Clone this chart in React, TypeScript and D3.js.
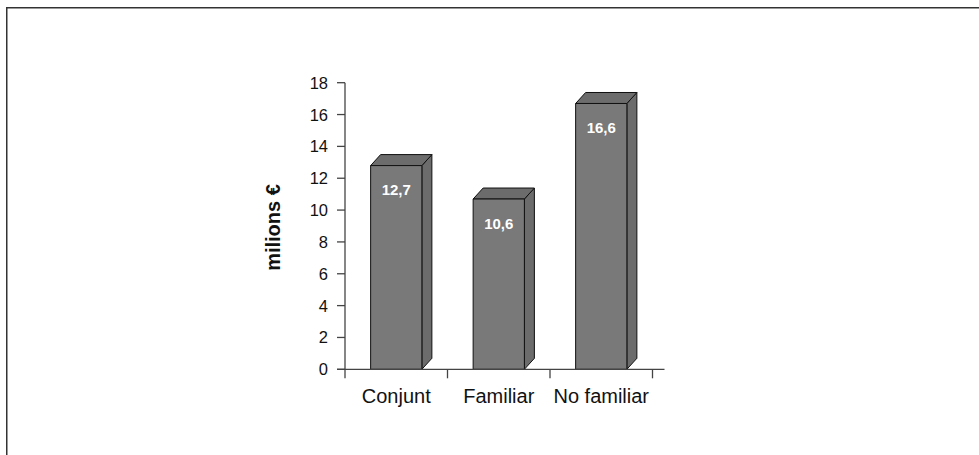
import React from "react";
import * as d3 from "d3";

const categories = ["Conjunt", "Familiar", "No familiar"];
const values = [12.7, 10.6, 16.6];
const valueLabels = ["12,7", "10,6", "16,6"];
const yTicks = [0, 2, 4, 6, 8, 10, 12, 14, 16, 18];
const yTitle = "milions €";

const W = 979;
const H = 455;
const FONT = "'Liberation Sans', Arial, Helvetica, sans-serif";

export default function App() {
  const x0 = 345, x1 = 652.5;
  const yZero = 369.3, yTop = 82.7;
  const x = d3.scaleBand<string>().domain(categories).range([x0, x1]).paddingInner(0).paddingOuter(0);
  const y = d3.scaleLinear().domain([0, 18]).range([yZero, yTop]);
  const barW = x.bandwidth() * 0.5;
  const dx = 10, dy = 11;
  const axisColor = "#444";
  const bounds = [...categories.map((c) => x(c)!), x1];

  return (
    <svg width={W} height={H} style={{ position: "absolute", left: 0, top: 0, background: "#fff" }}>
      {/* frame */}
      <line x1={7} y1={7.75} x2={W} y2={7.75} stroke="#333" strokeWidth={1.5} />
      <line x1={6.75} y1={7} x2={6.75} y2={H} stroke="#333" strokeWidth={1.5} />

      {/* bars */}
      {categories.map((c, i) => {
        const bx = x(c)! + (x.bandwidth() - barW) / 2;
        const top = y(values[i]) - 1.5;
        const bottom = y(0);
        const front = `M${bx},${top}L${bx + barW},${top}L${bx + barW},${bottom}L${bx},${bottom}Z`;
        const side = `M${bx + barW},${top}L${bx + barW + dx},${top - dy}L${bx + barW + dx},${bottom - dy}L${bx + barW},${bottom}Z`;
        const topFace = `M${bx},${top}L${bx + dx},${top - dy}L${bx + barW + dx},${top - dy}L${bx + barW},${top}Z`;
        return (
          <g key={c}>
            <path d={side} fill="#6c6c6c" stroke="#111" strokeWidth={1} strokeLinejoin="round" />
            <path d={topFace} fill="#6c6c6c" stroke="#111" strokeWidth={1} strokeLinejoin="round" />
            <path d={front} fill="#797979" stroke="#111" strokeWidth={1} />
            <text
              x={bx + barW / 2}
              y={top + 29.5}
              textAnchor="middle"
              fill="#fff"
              fontFamily={FONT}
              fontSize={15}
              fontWeight="bold"
            >
              {valueLabels[i]}
            </text>
          </g>
        );
      })}

      {/* y axis */}
      <line x1={x0} y1={y(18)} x2={x0} y2={yZero} stroke={axisColor} strokeWidth={1.3} />
      {yTicks.map((t) => (
        <g key={t}>
          <line x1={x0 - 8} y1={y(t)} x2={x0} y2={y(t)} stroke={axisColor} strokeWidth={1.3} />
          <text x={x0 - 17} y={y(t) + 6} textAnchor="end" fontFamily={FONT} fontSize={16.5} fill="#111">
            {t}
          </text>
        </g>
      ))}

      {/* x axis */}
      <line x1={x0 - 8} y1={yZero} x2={x1 + 12} y2={yZero} stroke={axisColor} strokeWidth={1.3} />
      {bounds.map((b, i) => (
        <line key={i} x1={b} y1={yZero} x2={b} y2={yZero + 9} stroke={axisColor} strokeWidth={1.3} />
      ))}
      {categories.map((c) => (
        <text
          key={c}
          x={x(c)! + x.bandwidth() / 2}
          y={403}
          textAnchor="middle"
          fontFamily={FONT}
          fontSize={20}
          fill="#111"
        >
          {c}
        </text>
      ))}

      {/* y title */}
      <text
        transform={`translate(280,227.5) rotate(-90)`}
        textAnchor="middle"
        fontFamily={FONT}
        fontSize={20}
        fontWeight="bold"
        fill="#111"
      >
        {yTitle}
      </text>
    </svg>
  );
}
